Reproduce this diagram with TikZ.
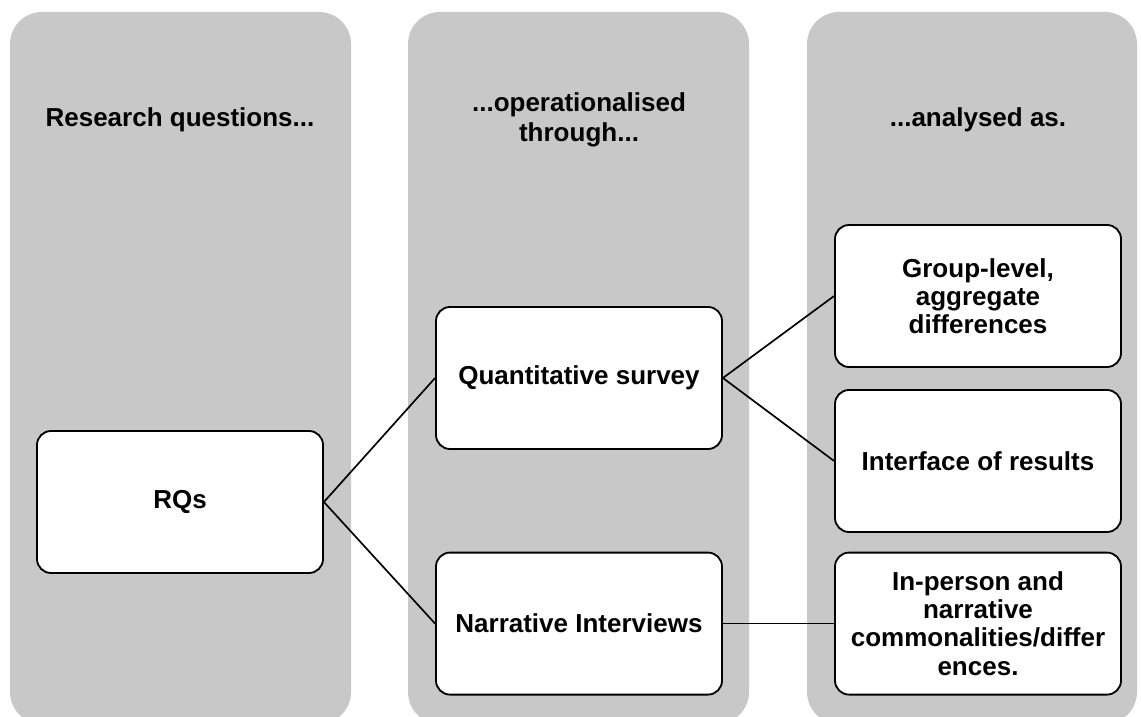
\documentclass[tikz,border=0pt]{standalone}
\usepackage{fontspec}
\setmainfont{Liberation Sans}
\usepackage{tikz}
\usetikzlibrary{positioning}
\usepackage{xcolor}
\definecolor{colgray}{RGB}{200,200,200}
\tikzset{
  column/.style={fill=colgray,rounded corners=0.8cm},
  header/.style={align=center,font=\bfseries\fontsize{18.5}{21.5}\selectfont},
  box/.style={draw,line width=1.3pt,fill=white,rounded corners=0.35cm,
    minimum width=7.15cm,minimum height=3.55cm,align=center,
    font=\bfseries\fontsize{18.5}{20}\selectfont},
  link/.style={line width=1.2pt}
}
\begin{document}
\begin{tikzpicture}

\useasboundingbox (0,0) rectangle (28.525,17.9);
\clip (0,0) rectangle (28.525,17.9);

\fill[column] (0.25,-0.2) rectangle (8.775,17.6);
\fill[column] (10.2,-0.2) rectangle (18.725,17.6);
\fill[column] (20.175,-0.2) rectangle (28.425,17.6);

\node[header] (h1) at (4.5,14.9) {Research questions...};
\node[header] (h2) at (14.475,14.9) {...operationalised\\through...};
\node[header] (h3) at (24.45,14.9) {...analysed as.};

\node[box] (rqs) at (4.5,5.35) {RQs};
\node[box] (quant) at (14.475,8.45) {Quantitative survey};
\node[box] (narr) at (14.475,2.31) {Narrative Interviews};
\node[box] (group) at (24.45,10.5) {Group-level,\\aggregate\\differences};
\node[box] (iface) at (24.45,6.375) {Interface of results};
\node[box] (inperson) at (24.45,2.31) {In-person and\\narrative\\commonalities/differ\\ences.};

\draw[link] (rqs.east) -- (quant.west);
\draw[link] (rqs.east) -- (narr.west);
\draw[link] (quant.east) -- (group.west);
\draw[link] (quant.east) -- (iface.west);
\draw[link] (narr.east) -- (inperson.west);

\end{tikzpicture}
\end{document}
